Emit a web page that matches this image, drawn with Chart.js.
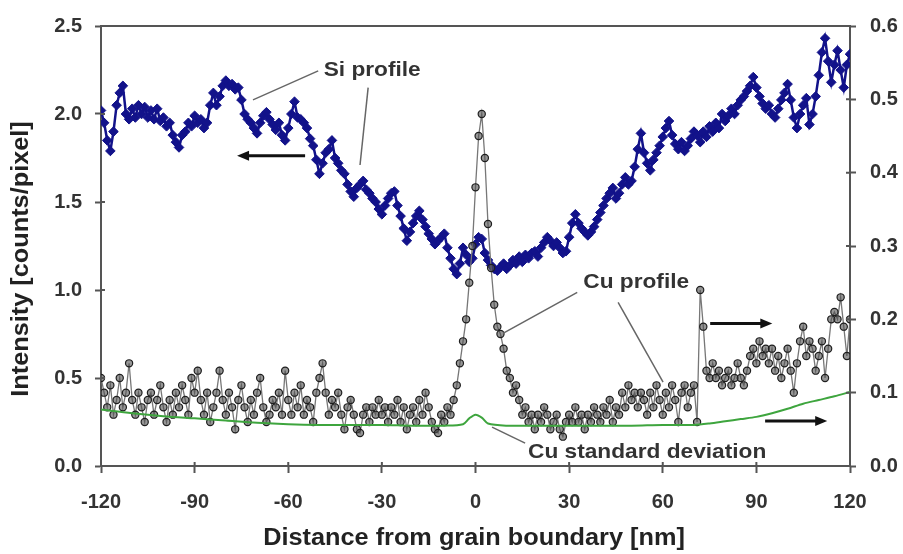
<!DOCTYPE html>
<html lang="en">
<head>
    <meta charset="UTF-8">
    <title>Si and Cu profiles across a grain boundary</title>
    <style>
        body { margin: 0; background: #fff; }
        canvas { display: block; }
    </style>
</head>
<body>
    <canvas id="profileChart" width="903" height="554"></canvas>

    <script src="https://cdn.jsdelivr.net/npm/chart.js"></script>
    <script>
        // Si intensity, counts/pixel, one reading per nm from -120 to 120 (left axis)
        const siProfile = [
            2.02, 1.95, 1.85, 1.79, 1.90, 2.05, 2.12, 2.16, 2.00, 1.97,
            2.03, 1.98, 2.05, 2.00, 2.04, 1.98, 2.02, 1.97, 2.03, 1.96,
            1.98, 1.93, 1.95, 1.88, 1.84, 1.81, 1.88, 1.90, 1.95, 1.93,
            1.99, 1.95, 1.97, 1.92, 1.95, 2.05, 2.12, 2.05, 2.10, 2.16,
            2.19, 2.16, 2.17, 2.14, 2.15, 2.08, 2.00, 1.97, 1.95, 1.92,
            1.89, 1.95, 1.99, 2.01, 1.97, 1.94, 1.91, 1.95, 1.88, 1.85,
            1.92, 2.00, 2.07, 1.98, 1.97, 1.95, 1.92, 1.86, 1.82, 1.74,
            1.66, 1.72, 1.78, 1.80, 1.85, 1.75, 1.72, 1.68, 1.66, 1.60,
            1.56, 1.53, 1.58, 1.60, 1.62, 1.57, 1.55, 1.52, 1.50, 1.46,
            1.43, 1.48, 1.52, 1.55, 1.56, 1.48, 1.42, 1.35, 1.28, 1.33,
            1.38, 1.42, 1.45, 1.40, 1.36, 1.32, 1.29, 1.26, 1.28, 1.30,
            1.32, 1.24, 1.18, 1.12, 1.09, 1.15, 1.24, 1.20, 1.16, 1.18,
            1.26, 1.30, 1.29, 1.21, 1.17, 1.14, 1.12, 1.11, 1.13, 1.15,
            1.12, 1.14, 1.17, 1.15, 1.19, 1.16, 1.20, 1.18, 1.21, 1.22,
            1.19, 1.24, 1.27, 1.30, 1.28, 1.25, 1.27, 1.24, 1.21, 1.22,
            1.30, 1.38, 1.43, 1.38, 1.35, 1.33, 1.31, 1.33, 1.36, 1.40,
            1.44, 1.48, 1.52, 1.55, 1.58, 1.52, 1.55, 1.60, 1.64, 1.60,
            1.62, 1.70, 1.80, 1.89, 1.78, 1.72, 1.68, 1.74, 1.78, 1.82,
            1.87, 1.92, 1.96, 1.88, 1.83, 1.80, 1.84, 1.79, 1.82, 1.86,
            1.90, 1.88, 1.84, 1.90, 1.87, 1.93, 1.90, 1.95, 1.92, 2.00,
            1.96, 1.99, 2.03, 2.00, 2.05, 2.08, 2.10, 2.13, 2.16, 2.21,
            2.15, 2.10, 2.06, 2.03, 2.05, 2.00, 1.98, 2.03, 2.08, 2.12,
            2.17, 2.08, 1.98, 1.92, 2.00, 2.05, 2.09, 1.94, 2.00, 2.10,
            2.22, 2.35, 2.43, 2.30, 2.18, 2.28, 2.36, 2.25, 2.15, 2.28,
            2.34
        ];

        // Cu intensity on the same grid (right axis)
        const cuProfile = [
            0.12, 0.10, 0.08, 0.11, 0.07, 0.09, 0.12, 0.08, 0.10, 0.14,
            0.09, 0.07, 0.10, 0.08, 0.06, 0.09, 0.10, 0.07, 0.09, 0.11,
            0.08, 0.06, 0.09, 0.07, 0.10, 0.08, 0.11, 0.09, 0.07, 0.12,
            0.10, 0.13, 0.09, 0.07, 0.10, 0.06, 0.08, 0.10, 0.13, 0.09,
            0.07, 0.10, 0.08, 0.05, 0.09, 0.11, 0.08, 0.06, 0.09, 0.07,
            0.10, 0.12, 0.08, 0.06, 0.07, 0.09, 0.08, 0.10, 0.07, 0.13,
            0.09, 0.07, 0.10, 0.08, 0.11, 0.07, 0.09, 0.08, 0.06, 0.10,
            0.12, 0.14, 0.10, 0.07, 0.09, 0.08, 0.10, 0.07, 0.05, 0.08,
            0.09, 0.07, 0.05, 0.045, 0.07, 0.08, 0.06, 0.08, 0.07, 0.09,
            0.07, 0.08, 0.06, 0.08, 0.07, 0.09, 0.06, 0.08, 0.05, 0.07,
            0.08, 0.06, 0.09, 0.07, 0.10, 0.08, 0.06, 0.05, 0.045, 0.07,
            0.06, 0.08, 0.07, 0.09, 0.11, 0.14, 0.17, 0.20, 0.25, 0.30,
            0.38, 0.45, 0.48, 0.42, 0.33, 0.27, 0.22, 0.19, 0.18, 0.16,
            0.13, 0.12, 0.10, 0.11, 0.09, 0.07, 0.08, 0.06, 0.07, 0.05,
            0.07, 0.06, 0.08, 0.07, 0.05, 0.06, 0.07, 0.05, 0.04, 0.06,
            0.07, 0.06, 0.08, 0.06, 0.07, 0.05, 0.07, 0.06, 0.08, 0.07,
            0.06, 0.08, 0.07, 0.09, 0.06, 0.08, 0.07, 0.10, 0.08, 0.11,
            0.09, 0.10, 0.08, 0.10, 0.09, 0.07, 0.10, 0.08, 0.11, 0.09,
            0.07, 0.10, 0.08, 0.11, 0.09, 0.06, 0.10, 0.11, 0.08, 0.10,
            0.11, 0.06, 0.24, 0.19, 0.13, 0.12, 0.14, 0.12, 0.13, 0.11,
            0.12, 0.13, 0.11, 0.12, 0.14, 0.12, 0.11, 0.13, 0.15, 0.16,
            0.14, 0.17, 0.15, 0.16, 0.14, 0.16, 0.13, 0.15, 0.12, 0.14,
            0.16, 0.13, 0.10, 0.14, 0.17, 0.19, 0.15, 0.17, 0.16, 0.13,
            0.15, 0.17, 0.12, 0.16, 0.20, 0.21, 0.20, 0.23, 0.19, 0.15,
            0.20
        ];

        // Cu standard deviation (right axis)
        const sdDistance = [-120, -110, -100, -90, -80, -70, -60, -50, -40, -30,
            -20, -10, -4, -2, 0, 2, 4, 10, 20, 30,
            40, 50, 60, 70, 75, 80, 85, 90, 95, 100,
            105, 110, 115, 120];
        const sdValue = [0.077, 0.072, 0.068, 0.065, 0.062, 0.059, 0.057, 0.056, 0.056, 0.056,
            0.055, 0.055, 0.057, 0.065, 0.070, 0.066, 0.058, 0.055, 0.055, 0.055,
            0.055, 0.055, 0.056, 0.056, 0.058, 0.061, 0.064, 0.067, 0.072, 0.078,
            0.085, 0.090, 0.095, 0.101];

        const xTicks = [-120, -90, -60, -30, 0, 30, 60, 90, 120];
        const leftTicks = [0, 0.5, 1.0, 1.5, 2.0, 2.5];
        const rightTicks = [0, 0.1, 0.2, 0.3, 0.4, 0.5, 0.6];

        const firstNm = -120;
        const siPoints = siProfile.map((v, i) => ({ x: firstNm + i, y: v }));
        const cuPoints = cuProfile.map((v, i) => ({ x: firstNm + i, y: v }));
        const sdPoints = sdDistance.map((d, i) => ({ x: d, y: sdValue[i] }));

        // callouts, in axis units (nm, left axis)
        const notes = [
            { text: 'Si profile', at: [-33.1, 2.25] },
            { text: 'Cu profile', at: [51.5, 1.043] },
            { text: 'Cu standard deviation', at: [55, 0.079] }
        ];
        const leaders = [
            [-50.4, 2.245, -71.3, 2.08],
            [-34.4, 2.15, -37.0, 1.71],
            [32.6, 0.986, 8.8, 0.754],
            [45.7, 0.93, 60.1, 0.476],
            [5.3, 0.221, 15.9, 0.13]
        ];
        const arrows = [
            [-54.6, 1.763, -76.4, 1.763],
            [75.2, 0.81, 95.1, 0.81],
            [92.8, 0.255, 112.7, 0.255]
        ];

        const FONT = "'Liberation Sans', Arial, sans-serif";
        const AXIS = '#555';

        const callouts = {
            id: 'callouts',
            afterDraw(chart) {
                const { ctx, chartArea: a, scales: { x, y, y1 } } = chart;
                const px = (v) => x.getPixelForValue(v);
                const py = (v) => y.getPixelForValue(v);
                ctx.save();

                // top edge of the frame
                ctx.strokeStyle = AXIS;
                ctx.lineWidth = 2;
                ctx.beginPath();
                ctx.moveTo(a.left, a.top);
                ctx.lineTo(a.right, a.top);
                ctx.stroke();

                // short inner halves of the tick marks
                ctx.beginPath();
                xTicks.forEach(t => { ctx.moveTo(px(t), a.bottom); ctx.lineTo(px(t), a.bottom - 4); });
                leftTicks.forEach(t => { ctx.moveTo(a.left, py(t)); ctx.lineTo(a.left + 4, py(t)); });
                rightTicks.forEach(t => {
                    const yy = y1.getPixelForValue(t);
                    ctx.moveTo(a.right, yy); ctx.lineTo(a.right - 4, yy);
                });
                ctx.stroke();

                ctx.strokeStyle = '#666';
                ctx.lineWidth = 1.5;
                leaders.forEach(l => {
                    ctx.beginPath();
                    ctx.moveTo(px(l[0]), py(l[1]));
                    ctx.lineTo(px(l[2]), py(l[3]));
                    ctx.stroke();
                });

                ctx.strokeStyle = '#111';
                ctx.fillStyle = '#111';
                arrows.forEach(r => {
                    const x0 = px(r[0]), y0 = py(r[1]), x1 = px(r[2]), y1p = py(r[3]);
                    const dir = Math.sign(x1 - x0);
                    ctx.lineWidth = 3;
                    ctx.beginPath();
                    ctx.moveTo(x0, y0);
                    ctx.lineTo(x1 - dir * 8, y1p);
                    ctx.stroke();
                    ctx.beginPath();
                    ctx.moveTo(x1, y1p);
                    ctx.lineTo(x1 - dir * 12, y1p - 5);
                    ctx.lineTo(x1 - dir * 12, y1p + 5);
                    ctx.closePath();
                    ctx.fill();
                });

                ctx.fillStyle = '#333';
                ctx.font = 'bold 21px ' + FONT;
                ctx.textAlign = 'center';
                ctx.textBaseline = 'middle';
                notes.forEach(n => {
                    ctx.save();
                    ctx.translate(px(n.at[0]), py(n.at[1]));
                    ctx.scale(1.08, 1);
                    ctx.fillText(n.text, 0, 0);
                    ctx.restore();
                });

                // axis titles
                ctx.fillStyle = '#222';
                ctx.font = 'bold 23px ' + FONT;
                ctx.save();
                ctx.translate(22, 259);
                ctx.rotate(-Math.PI / 2);
                ctx.scale(1.1, 1);
                ctx.fillText('Intensity [counts/pixel]', 0, 0);
                ctx.restore();
                ctx.save();
                ctx.translate(474, 539);
                ctx.scale(1.1, 1);
                ctx.fillText('Distance from grain boundary [nm]', 0, 0);
                ctx.restore();

                ctx.restore();
            }
        };

        const tickFont = { family: FONT, size: 20, weight: 'bold' };

        new Chart(document.getElementById('profileChart'), {
            type: 'line',
            data: {
                datasets: [
                    {
                        label: 'Si profile',
                        data: siPoints,
                        yAxisID: 'y',
                        order: 2,
                        borderColor: '#12128a',
                        borderWidth: 2.5,
                        backgroundColor: '#12128a',
                        pointStyle: 'rectRot',
                        pointRadius: 4.8,
                        pointBorderWidth: 1,
                        tension: 0
                    },
                    {
                        label: 'Cu profile',
                        data: cuPoints,
                        yAxisID: 'y1',
                        order: 1,
                        borderColor: '#777',
                        borderWidth: 1.3,
                        pointBackgroundColor: 'rgba(80,80,80,0.6)',
                        pointBorderColor: '#1e1e1e',
                        pointStyle: 'circle',
                        pointRadius: 3.6,
                        pointBorderWidth: 1.2,
                        tension: 0
                    },
                    {
                        label: 'Cu standard deviation',
                        data: sdPoints,
                        yAxisID: 'y1',
                        order: 0,
                        borderColor: '#3ea53e',
                        borderWidth: 2,
                        pointRadius: 0,
                        tension: 0.3
                    }
                ]
            },
            options: {
                responsive: false,
                animation: false,
                layout: { padding: { top: 25, left: 0, right: 0, bottom: 0 } },
                plugins: {
                    legend: { display: false },
                    tooltip: { enabled: false }
                },
                scales: {
                    x: {
                        type: 'linear',
                        min: -120,
                        max: 120,
                        afterFit: (s) => { s.height = 88; },
                        afterBuildTicks: (s) => { s.ticks = xTicks.map(v => ({ value: v })); },
                        grid: { drawOnChartArea: false, tickLength: 7, color: AXIS, tickWidth: 2 },
                        border: { color: AXIS, width: 2 },
                        ticks: { font: tickFont, color: '#333', padding: 17, maxRotation: 0 }
                    },
                    y: {
                        position: 'left',
                        min: 0,
                        max: 2.5,
                        afterFit: (s) => { s.width = 101; },
                        afterBuildTicks: (s) => { s.ticks = leftTicks.map(v => ({ value: v })); },
                        grid: { drawOnChartArea: false, tickLength: 6, color: AXIS, tickWidth: 2 },
                        border: { color: AXIS, width: 2 },
                        ticks: { font: tickFont, color: '#333', padding: 13, callback: (v) => v.toFixed(1) }
                    },
                    y1: {
                        position: 'right',
                        min: 0,
                        max: 0.6,
                        afterFit: (s) => { s.width = 53; },
                        afterBuildTicks: (s) => { s.ticks = rightTicks.map(v => ({ value: v })); },
                        grid: { drawOnChartArea: false, tickLength: 6, color: AXIS, tickWidth: 2 },
                        border: { color: AXIS, width: 2 },
                        ticks: { font: tickFont, color: '#333', padding: 14, callback: (v) => v.toFixed(1) }
                    }
                }
            },
            plugins: [callouts]
        });
    </script>
</body>
</html>
